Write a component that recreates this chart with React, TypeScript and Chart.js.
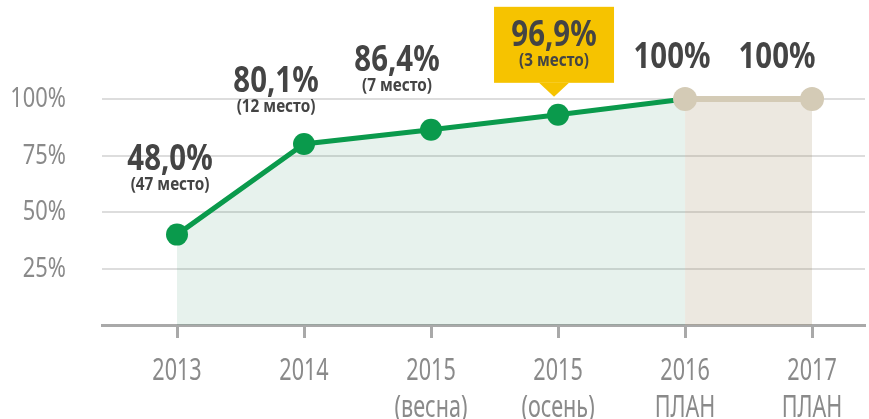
import { useEffect, useRef } from 'react';
import { Chart, registerables } from 'chart.js';

Chart.register(...registerables);

// ---- data ----
const categories: string[][] = [
  ['2013'],
  ['2014'],
  ['2015', '(весна)'],
  ['2015', '(осень)'],
  ['2016', 'ПЛАН'],
  ['2017', 'ПЛАН'],
];
const actualValues = [40, 80.1, 86.4, 93, 100];
const planValues = [100, 100];
const planStart = 4;
const valueLabels = ['48,0%', '80,1%', '86,4%', '96,9%', '100%', '100%'];
const rankLabels = ['(47 место)', '(12 место)', '(7 место)', '(3 место)', '', ''];
const yTickValues = [25, 50, 75, 100];
const highlightIndex = 3;

const FONT = "'Noto Sans', 'Open Sans', sans-serif";
const GREEN = '#0a9a4c';
const BEIGE = '#d4cbb6';
const AXIS_TEXT = '#8a8a8a';
const LABEL_TEXT = '#444444';

// label offsets relative to the point position
const labelOffsets: [number, number][] = [
  [-7, -65],
  [-28, -52],
  [-34, -59],
  [-4, -69],
  [-13, -31],
  [-35, -31],
];

const valueAt = (i: number) =>
  i < actualValues.length ? actualValues[i] : planValues[i - planStart];

// condensed text helper (narrow face look)
function narrowText(
  ctx: CanvasRenderingContext2D,
  text: string,
  x: number,
  y: number,
  font: string,
  sx: number,
  align: CanvasTextAlign,
) {
  ctx.save();
  ctx.font = font;
  ctx.textAlign = align;
  ctx.textBaseline = 'alphabetic';
  ctx.translate(x, y);
  ctx.scale(sx, 1);
  ctx.fillText(text, 0, 0);
  ctx.restore();
}

const axisTextPlugin = {
  id: 'axisText',
  afterDraw(chart: any) {
    const { ctx } = chart;
    const xs = chart.scales.x;
    const ys = chart.scales.y;
    ctx.save();
    ctx.fillStyle = AXIS_TEXT;
    yTickValues.forEach((v) => {
      narrowText(ctx, `${v}%`, xs.left - 36, ys.getPixelForValue(v) + 8, `28px ${FONT}`, 0.78, 'right');
    });
    categories.forEach((lines, i) => {
      const px = xs.getPixelForValue(i);
      lines.forEach((line, j) => {
        narrowText(ctx, line, px, ys.bottom + 55 + j * 37, `30px ${FONT}`, 0.72, 'center');
      });
    });
    ctx.restore();
  },
};

const labelPlugin = {
  id: 'valueLabels',
  afterDatasetsDraw(chart: any) {
    const { ctx } = chart;
    const xs = chart.scales.x;
    const ys = chart.scales.y;
    ctx.save();
    categories.forEach((_, i) => {
      const px = xs.getPixelForValue(i) + labelOffsets[i][0];
      const py = ys.getPixelForValue(valueAt(i)) + labelOffsets[i][1];
      if (i === highlightIndex) {
        const w = 120;
        ctx.fillStyle = '#f6c300';
        ctx.fillRect(px - w / 2, py - 39, w, 76);
        ctx.beginPath();
        ctx.moveTo(px - 15, py + 37);
        ctx.lineTo(px + 15, py + 37);
        ctx.lineTo(px, py + 51);
        ctx.closePath();
        ctx.fill();
      }
      ctx.fillStyle = LABEL_TEXT;
      narrowText(ctx, valueLabels[i], px, py, `bold 35px ${FONT}`, 0.84, 'center');
      if (rankLabels[i]) {
        narrowText(ctx, rankLabels[i], px, py + 20, `bold 17px ${FONT}`, 0.9, 'center');
      }
    });
    ctx.restore();
  },
};

export default function App() {
  const ref = useRef<HTMLCanvasElement>(null);
  useEffect(() => {
    document.body.style.margin = '0';
    const canvas = ref.current!;
    const actualData = actualValues.map((y, i) => ({ x: i, y }));
    const planData = planValues.map((y, i) => ({ x: planStart + i, y }));
    const chart = new Chart(canvas, {
      type: 'line',
      data: {
        datasets: [
          {
            data: planData,
            borderColor: BEIGE,
            borderWidth: 6,
            pointRadius: 12,
            pointHoverRadius: 12,
            pointBackgroundColor: BEIGE,
            pointBorderWidth: 0,
            backgroundColor: 'rgba(160,140,100,0.2)',
            fill: 'origin',
            tension: 0,
            clip: false,
          } as any,
          {
            data: actualData,
            borderColor: GREEN,
            borderWidth: 5,
            pointRadius: actualValues.map((_, i) => (i >= planStart ? 0 : 11)),
            pointHoverRadius: 11,
            pointBackgroundColor: GREEN,
            pointBorderWidth: 0,
            backgroundColor: 'rgba(20,130,80,0.1)',
            fill: 'origin',
            tension: 0,
            clip: false,
          } as any,
        ],
      },
      options: {
        responsive: false,
        animation: false,
        events: [],
        layout: { autoPadding: false, padding: { top: 99, right: 4, left: 0, bottom: 0 } },
        plugins: { legend: { display: false }, tooltip: { enabled: false } },
        scales: {
          x: {
            type: 'linear',
            min: -0.5906,
            max: 5.417,
            afterBuildTicks: (s: any) => {
              s.ticks = categories.map((_, i) => ({ value: i }));
            },
            afterFit: (s: any) => {
              s.height = 94;
            },
            ticks: { display: false },
            grid: {
              drawOnChartArea: false,
              drawTicks: true,
              tickLength: 13,
              tickColor: '#a9a9a9',
              tickWidth: 3,
            },
            border: { color: '#a9a9a9', width: 3 },
          },
          y: {
            min: 0,
            max: 100,
            afterBuildTicks: (s: any) => {
              s.ticks = yTickValues.map((v) => ({ value: v }));
            },
            afterFit: (s: any) => {
              s.width = 102;
            },
            ticks: { display: false },
            grid: { color: '#dddddd', lineWidth: 2, drawTicks: false },
            border: { display: false },
          },
        },
      },
      plugins: [labelPlugin, axisTextPlugin],
    } as any);
    return () => chart.destroy();
  }, []);
  return <canvas ref={ref} width={869} height={419} style={{ display: 'block' }} />;
}
